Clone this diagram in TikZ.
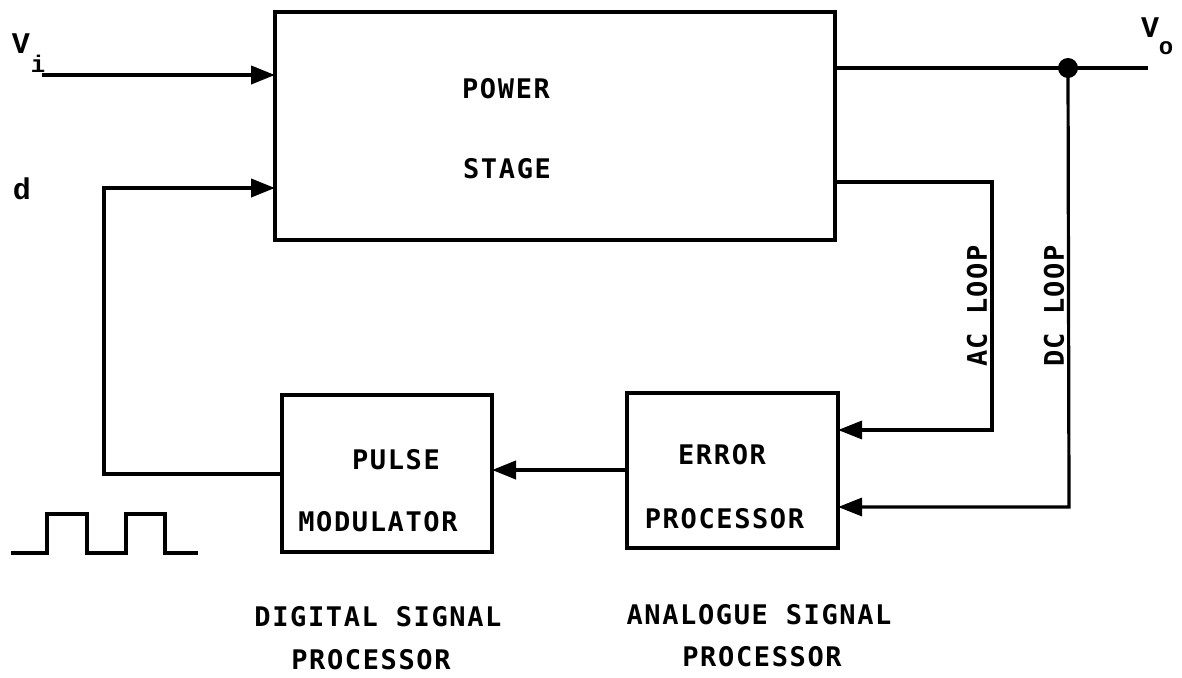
\documentclass[tikz,border=0pt]{standalone}
\usepackage{fontspec}
\usetikzlibrary{arrows.meta}
\newfontfamily\lblfont[LetterSpace=6]{DejaVu Sans Mono Bold}
\newfontfamily\twfont{Liberation Mono Bold}
\tikzset{
  blk/.style={draw, line width=4.5pt, inner sep=0pt, outer sep=0pt},
  wire/.style={line width=4pt, line join=miter},
  thinw/.style={line width=3.2pt},
  arr/.style={-{Triangle[length=24pt,width=18pt]}},
  lbl/.style={inner sep=0pt, font=\lblfont\fontsize{27}{28}\selectfont},
  captxt/.style={inner sep=0pt, font=\lblfont\fontsize{27}{28}\selectfont},
  sym/.style={inner sep=0pt, font=\twfont\fontsize{30}{30}\selectfont},
  subsym/.style={inner sep=0pt, font=\twfont\fontsize{24}{24}\selectfont},
}
\begin{document}
\begin{tikzpicture}[x=1pt,y=-1pt]
\useasboundingbox (0,0) rectangle (1182,677);
\fill[white] (0,0) rectangle (1182,677);

% blocks
\node[blk, minimum width=560pt, minimum height=228pt] (power) at (555,126) {};
\node[blk, minimum width=210pt, minimum height=157pt] (pulse) at (387,473.5) {};
\node[blk, minimum width=211pt, minimum height=155pt] (error) at (732.5,470.5) {};

% block texts
\node[lbl] (tpower) at (506,89) {POWER};
\node[lbl] (tstage) at (507,169) {STAGE};
\node[lbl] (tpulse) at (396,460) {PULSE};
\node[lbl] (tmod) at (378,522) {MODULATOR};
\node[lbl] (terr) at (722,455) {ERROR};
\node[lbl] (tproc) at (724.5,519) {PROCESSOR};

% captions
\node[captxt] (dsp1) at (378,617) {DIGITAL SIGNAL};
\node[captxt] (dsp2) at (371,660) {PROCESSOR};
\node[captxt] (asp1) at (759,615) {ANALOGUE SIGNAL};
\node[captxt] (asp2) at (762,657) {PROCESSOR};

% loop labels
\node[lbl, rotate=90] (acl) at (977,306) {AC LOOP};
\node[lbl, rotate=90] (dcl) at (1054,306) {DC LOOP};

% input labels
\node[sym] (vi) at (21,44) {V};
\node[subsym] (vis) at (38,64) {i};
\node[sym] (dl) at (22,189) {d};
\node[sym] (vo) at (1150,28) {V};
\node[subsym] (vos) at (1166,48) {o};

% input wire
\coordinate (vin) at (42,75);
\draw[wire, arr] (vin) -- (vin -| power.west);

% duty-cycle feedback
\draw[wire, arr] (pulse.west) -| (104,188) -- (power.west |- 0,188);

% error -> pulse
\draw[wire, arr] (error.west |- 0,470) -- (pulse.east |- 0,470);

% output
\coordinate (vend) at (1148,68);
\coordinate (tap) at (1068,68);
\draw[wire] (power.east |- vend) -- (vend);
\fill (tap) circle (10pt);

% AC loop
\draw[thinw, arr] (power.east |- 0,182) -- (992,182) -- (992,430) -- (error.east |- 0,430);
% DC loop
\draw[thinw, arr] (tap) -- (1069,507) -- (error.east |- 0,507);

% pulse waveform
\draw[line width=4.5pt, line join=miter] (11,553) -- (47,553) -- (47,514) -- (87,514) -- (87,553) -- (126,553) -- (126,514) -- (165,514) -- (165,553) -- (198,553);
\end{tikzpicture}
\end{document}
